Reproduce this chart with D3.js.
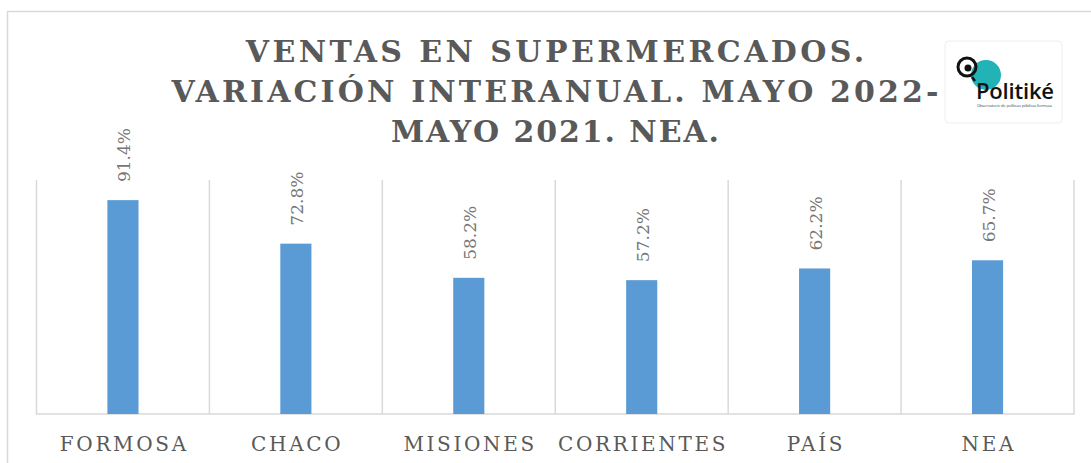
<!DOCTYPE html>
<html><head><meta charset="utf-8">
<script src="https://cdn.jsdelivr.net/npm/d3@7"></script>
<style>body{margin:0;background:#fff;overflow:hidden}</style>
</head><body><svg id="c" width="1091" height="463"></svg>
<script>
const categories = ["FORMOSA","CHACO","MISIONES","CORRIENTES","PAÍS","NEA"];
const values = [91.4, 72.8, 58.2, 57.2, 62.2, 65.7];
const valueLabels = ["91.4%","72.8%","58.2%","57.2%","62.2%","65.7%"];
const titleLines = ["VENTAS EN SUPERMERCADOS.","VARIACIÓN INTERANUAL. MAYO 2022-","MAYO 2021. NEA."];
const yDomain = [0, 100];

const SERIF = "'DejaVu Serif', 'Liberation Serif', serif";
const svg = d3.select("#c");

// outer chart border
svg.append("rect").attr("x",7.5).attr("y",11.5).attr("width",1110).attr("height",480)
  .attr("fill","#fff").attr("stroke","#d9d9d9").attr("stroke-width",1.5);

const x = d3.scaleBand().domain(categories).range([36.5,1074]).padding(0);
const y = d3.scaleLinear().domain(yDomain).range([414,180]);
const barW = x.bandwidth()*0.18;

// vertical gridlines at category boundaries
const bounds = categories.map(c=>x(c)).concat([x.range()[1]]);
svg.selectAll("line.grid").data(bounds).join("line").attr("class","grid")
  .attr("x1",d=>d).attr("x2",d=>d).attr("y1",y(yDomain[1])).attr("y2",y(0))
  .attr("stroke","#d9d9d9").attr("stroke-width",1.5);
// baseline
svg.append("line").attr("x1",x.range()[0]-0.75).attr("x2",x.range()[1]+0.75)
  .attr("y1",y(0)).attr("y2",y(0)).attr("stroke","#d9d9d9").attr("stroke-width",1.5);

// bars
svg.selectAll("rect.bar").data(values).join("rect").attr("class","bar")
  .attr("x",(d,i)=>x(categories[i])+(x.bandwidth()-barW)/2)
  .attr("y",d=>y(d)).attr("width",barW).attr("height",d=>y(0)-y(d))
  .attr("fill","#5b9bd5");

// value labels (rotated)
svg.selectAll("text.val").data(values).join("text").attr("class","val")
  .attr("transform",(d,i)=>`translate(${x(categories[i])+x.bandwidth()/2+1},${y(d)-18}) rotate(-90)`)
  .attr("text-anchor","start").attr("dominant-baseline","central")
  .attr("font-family",SERIF).attr("font-size",17).attr("fill","#767676")
  .text((d,i)=>valueLabels[i]);

// category labels
const catG = svg.append("g");
const cats = catG.selectAll("text").data(categories).join("text")
  .attr("x",d=>x(d)+x.bandwidth()/2).attr("y",451)
  .attr("text-anchor","middle").attr("font-family",SERIF).attr("font-size",20)
  .attr("fill","#595959").text(d=>d);
{
  const n0 = cats.nodes()[0];
  const w = n0.getComputedTextLength();
  const ls = (129 - w)/categories[0].length;
  cats.attr("letter-spacing",ls).attr("dx",ls/2);
}

// title
const titleY = [62, 102, 142];
const titleW = [622, 770, 330];
svg.selectAll("text.title").data(titleLines).join("text").attr("class","title")
  .attr("x",555).attr("y",(d,i)=>titleY[i]).attr("text-anchor","middle")
  .attr("font-family",SERIF).attr("font-weight","bold").attr("font-size",30)
  .attr("fill","#595959").text(d=>d)
  .each(function(d,i){
    const w = this.getComputedTextLength();
    const ls = (titleW[i]-w)/d.length;
    d3.select(this).attr("letter-spacing",ls).attr("dx",ls/2);
  });

// logo
const logo = svg.append("g");
logo.append("rect").attr("x",945).attr("y",41).attr("width",117).attr("height",82).attr("rx",4)
  .attr("fill","#fff").attr("stroke","#eeeeee").attr("stroke-width",1);
logo.append("circle").attr("cx",986).attr("cy",75).attr("r",15).attr("fill","#22b3b7");
logo.append("circle").attr("cx",967).attr("cy",67).attr("r",9).attr("fill","none")
  .attr("stroke","#111").attr("stroke-width",3);
logo.append("circle").attr("cx",968).attr("cy",68).attr("r",3.5).attr("fill","#111");
logo.append("line").attr("x1",972).attr("y1",77).attr("x2",975).attr("y2",81)
  .attr("stroke","#111").attr("stroke-width",2.5);
logo.append("text").attr("x",976).attr("y",99).attr("font-family","'Open Sans', sans-serif")
  .attr("font-size",22).attr("font-weight",600).attr("fill","#111").attr("textLength",78)
  .text("Politiké");
logo.append("text").attr("x",977).attr("y",107).attr("font-family","'Open Sans', sans-serif")
  .attr("font-size",4).attr("fill","#1d4d5a").attr("textLength",75)
  .text("Observatorio de políticas públicas formosa");
</script></body></html>
